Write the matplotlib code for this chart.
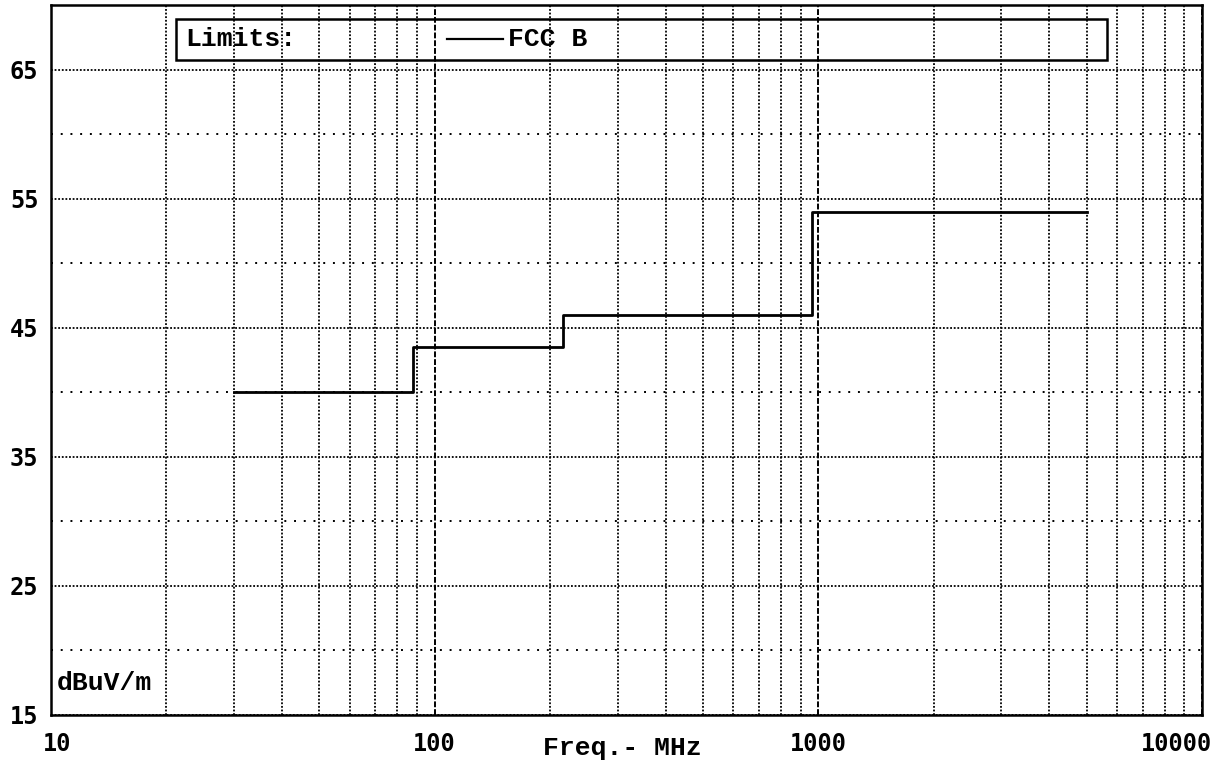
import matplotlib
matplotlib.use("Agg")
import matplotlib.pyplot as plt
from matplotlib.patches import Rectangle

# FCC class B radiated limit (step line)
freq_mhz = [30, 88, 216, 960, 5000]
limit_dbuv = [40, 43.5, 46, 54, 54]

x_ticks = [10, 100, 1000, 10000]
x_labels = ["10", "100", "1000", "10000"]
x_minor = [m * d for d in (10, 100, 1000) for m in range(2, 10)]
y_ticks = [15, 25, 35, 45, 55, 65]
y_minor = [20, 30, 40, 50, 60]

num_font = "DejaVu Sans Mono"
txt_font = "Liberation Mono"

fig = plt.figure(figsize=(12.19, 7.65), dpi=100)
ax = fig.add_axes([0.0418, 0.0654, 0.9443, 0.928])
ax.set_xscale("log")
ax.set_xlim(10, 10000)
ax.set_ylim(15, 70)

ax.step(freq_mhz, limit_dbuv, where="post", color="black", lw=2.0, zorder=3)

# grid
ax.set_xticks(x_ticks)
ax.set_xticks(x_minor, minor=True)
ax.set_yticks(y_ticks)
ax.set_yticks(y_minor, minor=True)
ax.xaxis.grid(True, which="major", color="black", ls=(0, (3, 1)), lw=1.4)
ax.xaxis.grid(True, which="minor", color="black", ls=(0, (1, 1)), lw=1.3)
ax.yaxis.grid(True, which="major", color="black", ls=(0, (1, 1)), lw=1.3)
ax.yaxis.grid(True, which="minor", color="black", ls=(0, (1, 4)), lw=1.4)
ax.tick_params(which="both", length=0)
ax.set_xticklabels([])
ax.set_xticklabels([], minor=True)
ax.set_yticklabels([str(v) for v in y_ticks], fontfamily=num_font,
                   fontweight="bold", fontsize=17)
ax.tick_params(axis="y", pad=9)
for s in ax.spines.values():
    s.set_linewidth(1.8)
    s.set_color("black")

# x labels, edge ones nudged inward like the original
offsets = {0: ("left", -6), 3: ("right", 7)}
for i, (xv, lab) in enumerate(zip(x_ticks, x_labels)):
    ha, dx = offsets.get(i, ("center", 0))
    ax.annotate(lab, xy=(xv, 0), xycoords=("data", "axes fraction"),
                xytext=(dx, -21), textcoords="offset points",
                ha=ha, va="center", fontfamily=num_font,
                fontweight="bold", fontsize=17)

ax.text(0.496, -0.0465, "Freq.- MHz", transform=ax.transAxes, ha="center",
        va="center", fontfamily=txt_font, fontweight="bold", fontsize=19)
ax.text(0.005, 0.045, "dBuV/m", transform=ax.transAxes, ha="left",
        va="center", fontfamily=txt_font, fontweight="bold", fontsize=19)

# limits box
ax.add_patch(Rectangle((0.1086, 0.9225), 0.8089, 0.0575, transform=ax.transAxes,
                       fill=False, ec="black", lw=1.8, zorder=4))
ax.text(0.1164, 0.952, "Limits:", transform=ax.transAxes, ha="left",
        va="center", fontfamily=txt_font, fontweight="bold", fontsize=19)
ax.plot([0.344, 0.3927], [0.952, 0.952], transform=ax.transAxes,
        color="black", lw=1.6)
ax.text(0.397, 0.952, "FCC B", transform=ax.transAxes, ha="left",
        va="center", fontfamily=txt_font, fontweight="bold", fontsize=19)

fig.savefig("out.png", dpi=100)
